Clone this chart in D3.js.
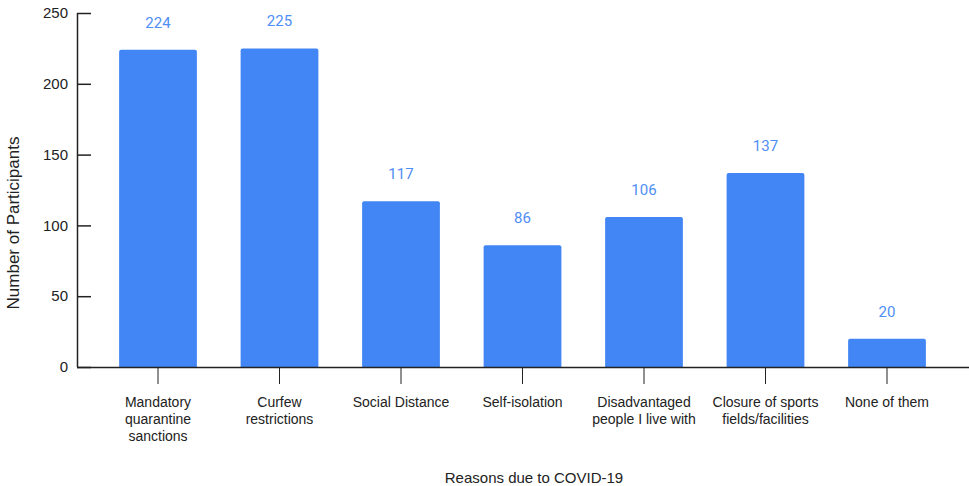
<!DOCTYPE html>
<html>
<head>
<meta charset="utf-8">
<script src="https://cdn.jsdelivr.net/npm/d3@7/dist/d3.min.js"></script>
<style>
  html, body { margin: 0; padding: 0; background: #fff; }
  svg { display: block; }
  text { font-family: "Liberation Sans", Arial, sans-serif; fill: #222; }
  .val { font-family: Roboto, "Liberation Sans", sans-serif; fill: #4f8ef5; }
</style>
</head>
<body>
<svg id="chart" width="969" height="486"></svg>
<script>
const categories = [
  ["Mandatory", "quarantine", "sanctions"],
  ["Curfew", "restrictions"],
  ["Social Distance"],
  ["Self-isolation"],
  ["Disadvantaged", "people I live with"],
  ["Closure of sports", "fields/facilities"],
  ["None of them"]
];
const values = [224, 225, 117, 86, 106, 137, 20];
const yTicks = [0, 50, 100, 150, 200, 250];

const svg = d3.select("#chart");
const axisX0 = 77, axisX1 = 970;
const yTop = 13, yBottom = 367;

const keys = categories.map(c => c.join(" "));
const x = d3.scaleBand()
  .domain(keys)
  .range([97.25, 947.75])
  .paddingInner(0.36)
  .paddingOuter(0.18);
const y = d3.scaleLinear().domain([0, 250]).range([yBottom, yTop]);

// bars
svg.append("g").selectAll("path")
  .data(values)
  .join("path")
  .attr("fill", "#4285f4")
  .attr("d", (d, i) => {
    const x0 = x(keys[i]), w = x.bandwidth(), t = y(d), b = y(0), r = 2;
    return `M${x0},${b}V${t + r}Q${x0},${t} ${x0 + r},${t}H${x0 + w - r}Q${x0 + w},${t} ${x0 + w},${t + r}V${b}Z`;
  });

// value labels
svg.append("g").selectAll("text")
  .data(values)
  .join("text")
  .attr("class", "val")
  .attr("x", (d, i) => x(keys[i]) + x.bandwidth() / 2)
  .attr("y", d => y(d) - 22)
  .attr("text-anchor", "middle")
  .attr("font-size", 15)
  .text(d => d);

// y axis: ticks point into the plot
const yAxis = d3.axisRight(y).tickValues(yTicks).tickSize(14).tickFormat("");
const gy = svg.append("g").attr("transform", `translate(${axisX0},0)`).call(yAxis);
gy.selectAll("line, path").attr("stroke", "#222").attr("stroke-width", 1.5);
gy.select(".domain").attr("d", `M0.5,${yTop}V${yBottom}`);
svg.append("g").selectAll("text")
  .data(yTicks)
  .join("text")
  .attr("x", axisX0 - 9)
  .attr("y", d => y(d))
  .attr("dy", "0.35em")
  .attr("text-anchor", "end")
  .attr("font-size", 15)
  .text(d => d);

// x axis
const xAxis = d3.axisBottom(x).tickSize(17).tickFormat("");
const gx = svg.append("g").attr("transform", `translate(0,${yBottom})`).call(xAxis);
gx.selectAll("line").attr("stroke", "#222").attr("stroke-width", 1);
gx.select(".domain").attr("d", `M${axisX0},0.5H${axisX1}`).attr("stroke", "#222").attr("stroke-width", 1.5);

svg.append("g").selectAll("text")
  .data(categories)
  .join("text")
  .attr("x", (d, i) => x(keys[i]) + x.bandwidth() / 2)
  .attr("y", 407)
  .attr("text-anchor", "middle")
  .attr("font-size", 14)
  .each(function(lines) {
    const t = d3.select(this);
    lines.forEach((ln, j) => {
      t.append("tspan")
        .attr("x", t.attr("x"))
        .attr("dy", j === 0 ? 0 : 17)
        .text(ln);
    });
  });

// axis titles
svg.append("text")
  .attr("x", 534)
  .attr("y", 483)
  .attr("text-anchor", "middle")
  .attr("font-size", 15)
  .text("Reasons due to COVID-19");

svg.append("text")
  .attr("transform", "translate(19,223) rotate(-90)")
  .attr("text-anchor", "middle")
  .attr("font-size", 17)
  .text("Number of Participants");
</script>
</body>
</html>
